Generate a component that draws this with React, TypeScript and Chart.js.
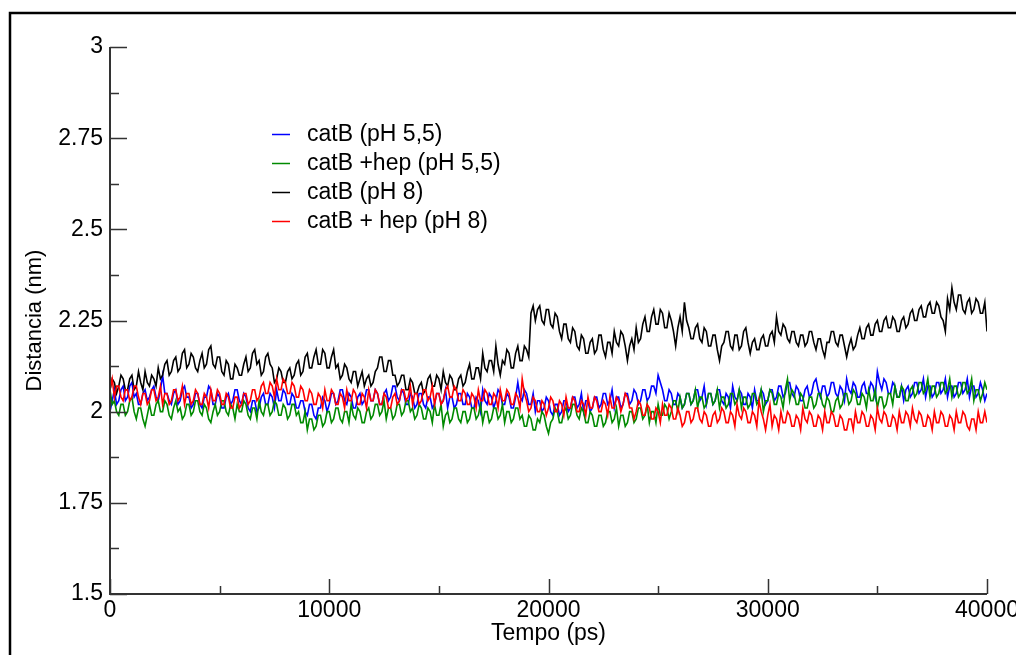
import { useEffect, useRef } from "react";
import { Chart, registerables } from "chart.js";

Chart.register(...registerables);

// sampling step of the trajectories (ps)
const TIME_STEP_PS = 100;

const seriesLabels = [
  "catB (pH 5,5)",
  "catB +hep (pH 5,5)",
  "catB (pH 8)",
  "catB + hep (pH 8)",
];
const seriesColors = ["#0000ff", "#008a00", "#000000", "#ff0000"];

const catB_pH55 = [
  2.00, 2.03, 2.06, 2.02, 2.03, 2.06, 2.07, 2.03, 2.04, 2.07, 2.08, 2.04, 2.05, 2.02, 2.02, 2.05, 2.06, 2.03, 2.04, 2.06,
  2.07, 2.04, 2.03, 2.06, 2.10, 2.05, 2.05, 2.03, 2.02, 2.05, 2.06, 2.02, 2.03, 2.06, 2.07, 2.04, 2.04, 2.01, 2.02, 2.05,
  2.05, 2.02, 2.01, 2.04, 2.04, 2.07, 2.06, 2.02, 2.02, 2.05, 2.04, 2.01, 2.01, 2.04, 2.05, 2.02, 2.03, 2.06, 2.06, 2.03,
  2.02, 2.05, 2.04, 2.01, 2.00, 2.03, 2.03, 2.00, 2.01, 2.04, 2.05, 2.02, 2.02, 2.05, 2.04, 2.01, 2.06, 2.03, 2.03, 2.06,
  2.05, 2.02, 2.02, 2.05, 2.04, 2.01, 2.01, 2.03, 2.03, 2.00, 1.99, 2.02, 2.02, 1.99, 1.98, 2.01, 2.01, 2.04, 2.03, 2.00,
  2.02, 2.05, 2.05, 2.02, 2.03, 2.06, 2.06, 2.03, 2.02, 2.05, 2.04, 2.01, 2.01, 2.04, 2.05, 2.02, 2.03, 2.06, 2.06, 2.03,
  2.03, 2.06, 2.05, 2.02, 2.02, 2.05, 2.06, 2.03, 2.04, 2.07, 2.07, 2.04, 2.03, 2.06, 2.05, 2.02, 2.02, 2.05, 2.04, 2.01,
  2.02, 2.05, 2.05, 2.02, 2.01, 2.04, 2.04, 2.01, 2.02, 2.05, 2.05, 2.02, 2.03, 2.06, 2.01, 2.04, 2.04, 2.01, 2.02, 2.05,
  2.05, 2.02, 2.02, 2.05, 2.04, 2.01, 2.01, 2.04, 2.03, 2.00, 2.06, 2.03, 2.02, 2.05, 2.04, 2.01, 2.03, 2.06, 2.05, 2.02,
  2.02, 2.05, 2.04, 2.01, 2.01, 2.04, 2.08, 2.04, 2.03, 2.06, 2.05, 2.02, 2.02, 2.05, 2.00, 2.03, 2.03, 2.00, 2.01, 2.04,
  2.03, 2.00, 1.99, 2.02, 2.02, 1.99, 2.00, 2.03, 2.03, 2.00, 2.01, 2.04, 2.04, 2.01, 2.02, 2.05, 2.00, 2.03, 2.03, 2.00,
  2.01, 2.04, 2.04, 2.01, 2.02, 2.05, 2.05, 2.02, 2.03, 2.06, 2.01, 2.04, 2.04, 2.01, 2.02, 2.05, 2.05, 2.02, 2.03, 2.06,
  2.05, 2.02, 2.03, 2.06, 2.06, 2.03, 2.04, 2.07, 2.07, 2.05, 2.10, 2.08, 2.06, 2.03, 2.03, 2.06, 2.05, 2.02, 2.02, 2.05,
  2.04, 2.01, 2.02, 2.05, 2.05, 2.02, 2.03, 2.06, 2.06, 2.03, 2.04, 2.07, 2.02, 2.05, 2.05, 2.02, 2.03, 2.06, 2.06, 2.03,
  2.02, 2.05, 2.04, 2.01, 2.07, 2.04, 2.03, 2.06, 2.05, 2.02, 2.02, 2.05, 2.04, 2.01, 2.06, 2.03, 2.03, 2.06, 2.05, 2.02,
  2.03, 2.06, 2.06, 2.03, 2.04, 2.07, 2.07, 2.04, 2.05, 2.08, 2.08, 2.05, 2.04, 2.07, 2.06, 2.03, 2.03, 2.06, 2.07, 2.04,
  2.05, 2.08, 2.09, 2.06, 2.04, 2.07, 2.07, 2.04, 2.05, 2.08, 2.08, 2.05, 2.04, 2.07, 2.06, 2.03, 2.09, 2.06, 2.05, 2.08,
  2.07, 2.04, 2.04, 2.07, 2.08, 2.05, 2.05, 2.08, 2.07, 2.04, 2.11, 2.08, 2.06, 2.09, 2.08, 2.05, 2.05, 2.08, 2.07, 2.04,
  2.04, 2.07, 2.03, 2.06, 2.07, 2.04, 2.05, 2.08, 2.08, 2.05, 2.06, 2.09, 2.04, 2.07, 2.07, 2.04, 2.05, 2.08, 2.08, 2.05,
  2.06, 2.09, 2.04, 2.07, 2.07, 2.04, 2.05, 2.08, 2.08, 2.05, 2.06, 2.09, 2.04, 2.07, 2.07, 2.04, 2.05, 2.08, 2.06, 2.03,
  2.05,
];

const catBhep_pH55 = [
  2.06, 2.02, 2.03, 2.00, 1.99, 2.02, 2.02, 1.99, 2.00, 2.03, 2.04, 2.00, 1.98, 2.01, 2.01, 1.98, 1.96, 1.99, 2.02, 1.99,
  1.99, 2.02, 2.03, 2.00, 2.00, 2.03, 2.02, 1.99, 1.98, 2.01, 2.03, 2.00, 2.01, 1.98, 1.99, 2.02, 2.02, 1.99, 2.00, 2.03,
  2.03, 2.00, 1.99, 2.02, 2.01, 1.98, 1.97, 2.00, 2.02, 1.99, 2.00, 2.03, 2.03, 2.00, 1.99, 2.02, 2.01, 1.98, 2.02, 2.00,
  2.00, 2.03, 2.02, 1.99, 1.98, 2.01, 2.01, 1.98, 2.03, 2.00, 1.99, 2.02, 2.02, 1.99, 2.00, 2.03, 2.02, 1.99, 1.99, 2.02,
  2.01, 1.98, 1.99, 2.02, 2.02, 1.99, 2.00, 1.97, 1.97, 2.00, 1.95, 1.98, 1.98, 1.95, 1.96, 1.99, 1.99, 1.96, 1.97, 2.00,
  2.00, 1.97, 1.98, 2.01, 2.01, 1.98, 1.97, 2.00, 2.00, 1.97, 2.02, 1.99, 1.98, 2.01, 2.00, 1.97, 1.97, 2.00, 2.01, 1.98,
  1.99, 2.02, 2.02, 1.99, 2.00, 2.03, 1.98, 2.01, 2.01, 1.98, 1.99, 2.02, 2.02, 1.99, 2.00, 2.03, 2.03, 2.00, 2.01, 1.98,
  1.99, 2.02, 2.01, 1.98, 1.98, 2.01, 2.00, 1.97, 2.02, 1.99, 1.99, 2.02, 1.96, 1.99, 2.00, 1.97, 1.98, 2.01, 2.01, 1.98,
  1.97, 2.00, 2.00, 1.97, 1.98, 2.01, 2.01, 1.98, 1.99, 2.02, 1.97, 2.00, 2.00, 1.97, 1.98, 2.01, 2.01, 1.98, 1.99, 2.02,
  1.97, 2.00, 2.00, 1.97, 1.98, 2.01, 2.01, 1.98, 1.99, 1.96, 1.96, 1.99, 1.98, 1.95, 1.95, 1.98, 1.97, 2.00, 1.99, 1.96,
  1.94, 1.97, 1.98, 2.01, 2.00, 1.97, 1.97, 2.00, 2.01, 1.98, 1.99, 2.02, 2.02, 1.99, 1.98, 2.01, 2.00, 1.97, 1.97, 2.00,
  1.99, 1.96, 1.96, 1.99, 1.99, 1.96, 1.97, 2.00, 2.00, 1.97, 1.98, 2.01, 1.96, 1.99, 1.99, 1.96, 1.97, 2.00, 2.00, 1.97,
  1.98, 2.01, 2.01, 1.98, 1.99, 2.02, 1.97, 2.00, 2.00, 1.97, 2.02, 1.99, 1.99, 2.02, 2.01, 1.98, 2.00, 2.03, 2.03, 2.00,
  2.04, 2.01, 2.02, 2.05, 2.05, 2.02, 2.03, 2.06, 2.01, 2.04, 2.04, 2.01, 2.02, 2.05, 2.05, 2.02, 2.03, 2.06, 2.01, 2.04,
  2.04, 2.01, 2.02, 2.05, 2.05, 2.02, 2.03, 2.06, 2.01, 2.04, 2.04, 2.01, 2.02, 2.05, 2.05, 2.02, 2.03, 2.06, 2.00, 2.03,
  2.03, 2.06, 2.05, 2.02, 2.02, 2.05, 2.04, 2.01, 2.06, 2.09, 2.03, 2.06, 2.05, 2.02, 2.02, 2.05, 2.04, 2.01, 2.01, 2.04,
  2.04, 2.01, 2.02, 2.05, 2.05, 2.02, 2.01, 2.04, 2.03, 2.00, 2.00, 2.03, 2.04, 2.01, 2.02, 2.05, 2.05, 2.02, 2.03, 2.06,
  2.05, 2.02, 2.02, 2.05, 2.04, 2.01, 2.06, 2.03, 2.03, 2.06, 2.01, 2.04, 2.04, 2.01, 2.02, 2.05, 2.05, 2.02, 2.07, 2.04,
  2.04, 2.07, 2.06, 2.03, 2.03, 2.06, 2.07, 2.04, 2.05, 2.08, 2.08, 2.05, 2.06, 2.09, 2.04, 2.07, 2.07, 2.04, 2.05, 2.08,
  2.08, 2.05, 2.06, 2.09, 2.04, 2.07, 2.07, 2.04, 2.05, 2.08, 2.08, 2.05, 2.06, 2.09, 2.03, 2.06, 2.06, 2.03, 2.05, 2.08,
  2.06,
];

const catB_pH8 = [
  2.06, 2.09, 2.08, 2.05, 2.07, 2.10, 2.09, 2.06, 2.06, 2.09, 2.10, 2.06, 2.07, 2.11, 2.08, 2.06, 2.11, 2.08, 2.07, 2.10,
  2.09, 2.07, 2.12, 2.09, 2.10, 2.13, 2.14, 2.10, 2.11, 2.14, 2.15, 2.11, 2.12, 2.16, 2.17, 2.12, 2.13, 2.16, 2.15, 2.12,
  2.11, 2.14, 2.16, 2.12, 2.13, 2.17, 2.18, 2.13, 2.12, 2.15, 2.15, 2.11, 2.10, 2.14, 2.13, 2.09, 2.09, 2.13, 2.12, 2.10,
  2.10, 2.13, 2.15, 2.11, 2.12, 2.16, 2.17, 2.13, 2.14, 2.10, 2.11, 2.15, 2.16, 2.13, 2.12, 2.08, 2.09, 2.12, 2.11, 2.08,
  2.08, 2.11, 2.12, 2.09, 2.10, 2.13, 2.14, 2.10, 2.11, 2.15, 2.16, 2.12, 2.12, 2.15, 2.17, 2.13, 2.13, 2.17, 2.16, 2.12,
  2.12, 2.15, 2.17, 2.12, 2.13, 2.09, 2.10, 2.13, 2.12, 2.09, 2.08, 2.11, 2.11, 2.07, 2.09, 2.11, 2.07, 2.09, 2.10, 2.07,
  2.08, 2.11, 2.12, 2.15, 2.15, 2.11, 2.11, 2.14, 2.14, 2.10, 2.10, 2.07, 2.08, 2.10, 2.10, 2.06, 2.06, 2.09, 2.08, 2.05,
  2.05, 2.07, 2.08, 2.05, 2.06, 2.09, 2.10, 2.07, 2.07, 2.10, 2.09, 2.06, 2.11, 2.08, 2.07, 2.10, 2.09, 2.06, 2.06, 2.09,
  2.10, 2.07, 2.08, 2.11, 2.13, 2.09, 2.09, 2.12, 2.12, 2.09, 2.16, 2.12, 2.11, 2.14, 2.14, 2.11, 2.18, 2.13, 2.10, 2.14,
  2.13, 2.17, 2.16, 2.12, 2.12, 2.16, 2.18, 2.14, 2.14, 2.18, 2.17, 2.15, 2.27, 2.29, 2.25, 2.28, 2.29, 2.25, 2.24, 2.28,
  2.28, 2.24, 2.23, 2.27, 2.26, 2.22, 2.20, 2.24, 2.24, 2.20, 2.19, 2.23, 2.22, 2.18, 2.17, 2.21, 2.20, 2.16, 2.16, 2.19,
  2.20, 2.16, 2.17, 2.21, 2.21, 2.17, 2.15, 2.19, 2.19, 2.16, 2.22, 2.19, 2.18, 2.22, 2.21, 2.18, 2.14, 2.18, 2.20, 2.17,
  2.23, 2.19, 2.20, 2.24, 2.26, 2.22, 2.22, 2.26, 2.28, 2.24, 2.24, 2.28, 2.27, 2.23, 2.23, 2.27, 2.25, 2.22, 2.18, 2.23,
  2.26, 2.22, 2.30, 2.25, 2.23, 2.20, 2.20, 2.23, 2.24, 2.20, 2.19, 2.23, 2.22, 2.18, 2.18, 2.21, 2.21, 2.17, 2.14, 2.18,
  2.19, 2.22, 2.22, 2.18, 2.17, 2.21, 2.21, 2.17, 2.18, 2.22, 2.23, 2.19, 2.16, 2.19, 2.20, 2.17, 2.17, 2.20, 2.21, 2.18,
  2.18, 2.21, 2.22, 2.19, 2.26, 2.22, 2.21, 2.24, 2.23, 2.20, 2.19, 2.22, 2.22, 2.19, 2.18, 2.21, 2.21, 2.18, 2.19, 2.22,
  2.22, 2.19, 2.17, 2.20, 2.20, 2.17, 2.15, 2.19, 2.19, 2.22, 2.22, 2.19, 2.18, 2.21, 2.21, 2.18, 2.15, 2.18, 2.20, 2.17,
  2.18, 2.21, 2.23, 2.20, 2.20, 2.23, 2.24, 2.21, 2.21, 2.24, 2.25, 2.22, 2.22, 2.25, 2.26, 2.23, 2.23, 2.26, 2.25, 2.22,
  2.22, 2.25, 2.26, 2.23, 2.24, 2.27, 2.28, 2.25, 2.25, 2.28, 2.29, 2.26, 2.26, 2.29, 2.30, 2.27, 2.27, 2.30, 2.29, 2.26,
  2.25, 2.22, 2.31, 2.28, 2.34, 2.30, 2.28, 2.32, 2.32, 2.28, 2.27, 2.30, 2.31, 2.27, 2.28, 2.31, 2.30, 2.27, 2.27, 2.30,
  2.22,
];

const catBhep_pH8 = [
  2.06, 2.09, 2.04, 2.07, 2.07, 2.04, 2.03, 2.06, 2.06, 2.03, 2.04, 2.07, 2.07, 2.04, 2.02, 2.05, 2.05, 2.02, 2.03, 2.06,
  2.06, 2.03, 2.04, 2.07, 2.02, 2.05, 2.05, 2.02, 2.03, 2.06, 2.06, 2.03, 2.04, 2.07, 2.02, 2.05, 2.05, 2.02, 2.03, 2.06,
  2.05, 2.02, 2.02, 2.05, 2.04, 2.01, 2.06, 2.03, 2.03, 2.06, 2.05, 2.02, 2.02, 2.05, 2.04, 2.01, 2.01, 2.04, 2.04, 2.01,
  2.02, 2.05, 2.05, 2.02, 2.03, 2.06, 2.06, 2.03, 2.04, 2.07, 2.08, 2.05, 2.05, 2.08, 2.07, 2.04, 2.09, 2.06, 2.06, 2.09,
  2.08, 2.05, 2.05, 2.08, 2.07, 2.04, 2.04, 2.07, 2.06, 2.03, 2.03, 2.06, 2.05, 2.02, 2.02, 2.05, 2.04, 2.01, 2.06, 2.03,
  2.03, 2.06, 2.05, 2.02, 2.02, 2.05, 2.04, 2.01, 2.06, 2.03, 2.03, 2.06, 2.05, 2.02, 2.02, 2.05, 2.04, 2.01, 2.06, 2.03,
  2.03, 2.06, 2.05, 2.02, 2.02, 2.05, 2.04, 2.01, 2.01, 2.04, 2.05, 2.02, 2.03, 2.06, 2.06, 2.03, 2.04, 2.07, 2.02, 2.05,
  2.05, 2.02, 2.03, 2.06, 2.06, 2.03, 2.04, 2.07, 2.02, 2.05, 2.05, 2.02, 2.03, 2.06, 2.07, 2.04, 2.04, 2.07, 2.06, 2.03,
  2.03, 2.06, 2.05, 2.02, 2.02, 2.05, 2.04, 2.01, 2.06, 2.03, 2.03, 2.06, 2.05, 2.02, 2.02, 2.05, 2.04, 2.01, 2.06, 2.03,
  2.03, 2.06, 2.05, 2.02, 2.02, 2.05, 2.04, 2.01, 2.09, 2.05, 2.03, 2.00, 2.01, 2.04, 2.03, 2.00, 2.00, 2.03, 2.02, 1.99,
  2.01, 2.04, 2.03, 2.00, 2.00, 2.03, 2.02, 1.99, 2.04, 2.01, 2.01, 2.04, 2.03, 2.00, 2.00, 2.03, 2.02, 1.99, 2.04, 2.01,
  2.01, 2.04, 2.03, 2.00, 2.00, 2.03, 2.02, 1.99, 2.04, 2.01, 2.01, 2.04, 2.03, 2.00, 2.02, 2.05, 2.04, 2.01, 2.01, 1.98,
  2.00, 2.03, 2.02, 1.99, 1.99, 2.02, 2.01, 1.98, 1.98, 2.01, 2.00, 1.97, 2.02, 1.99, 1.99, 2.02, 2.01, 1.98, 1.98, 2.01,
  1.99, 1.96, 1.97, 2.00, 2.00, 1.97, 1.98, 2.01, 2.01, 1.98, 1.97, 2.00, 1.99, 1.96, 1.96, 1.99, 2.00, 1.97, 1.98, 2.01,
  2.00, 1.97, 1.97, 2.00, 1.99, 1.96, 2.02, 1.99, 1.98, 2.01, 2.00, 1.97, 1.97, 2.00, 1.99, 1.96, 2.03, 2.00, 1.98, 1.95,
  1.99, 2.02, 1.96, 1.99, 1.98, 1.95, 2.00, 1.97, 1.97, 2.00, 1.99, 1.96, 1.96, 1.99, 1.98, 1.95, 2.01, 1.98, 1.97, 2.00,
  1.99, 1.96, 1.96, 1.99, 1.98, 1.95, 2.00, 1.97, 1.97, 2.00, 1.99, 1.96, 1.96, 1.99, 1.98, 1.95, 1.95, 1.98, 1.98, 1.95,
  2.00, 1.97, 1.97, 2.00, 1.99, 1.96, 1.96, 1.99, 1.98, 1.95, 2.01, 1.98, 1.97, 2.00, 1.99, 1.96, 1.96, 1.99, 1.98, 1.95,
  2.00, 1.97, 1.97, 2.00, 1.99, 1.96, 2.01, 1.98, 1.97, 2.00, 1.99, 1.96, 1.96, 1.99, 1.98, 1.95, 2.00, 1.97, 1.97, 2.00,
  1.99, 1.96, 1.96, 1.99, 1.98, 1.95, 2.00, 1.97, 1.97, 2.00, 1.99, 1.96, 1.95, 1.98, 1.98, 1.95, 2.00, 1.97, 1.97, 2.00,
  1.97,
];

const seriesValues = [catB_pH55, catBhep_pH55, catB_pH8, catBhep_pH8];
// Grace draws later sets on top: red on top, blue at the bottom
const drawOrder = [4, 3, 2, 1];

const xMajorTicks = [0, 10000, 20000, 30000, 40000];
const yMajorTicks = [1.5, 1.75, 2, 2.25, 2.5, 2.75, 3];
const xTitle = "Tempo (ps)";
const yTitle = "Distancia (nm)";

const FONT = "'Liberation Sans', Arial, Helvetica, sans-serif";
const FONT_SIZE = 23;

const framePlugin = {
  id: "frame",
  beforeDraw(chart: any) {
    const { ctx, width, height } = chart;
    ctx.save();
    ctx.fillStyle = "#ffffff";
    ctx.fillRect(0, 0, width, height);
    ctx.strokeStyle = "#000000";
    ctx.lineWidth = 2.5;
    ctx.strokeRect(10, 13, width + 40, height + 40);
    ctx.restore();
  },
};

const axesPlugin = {
  id: "graceAxes",
  afterDatasetsDraw(chart: any) {
    const { ctx, chartArea: ca, scales } = chart;
    const x = scales.x;
    const y = scales.y;
    ctx.save();
    ctx.strokeStyle = "#333333";
    ctx.lineWidth = 2;
    ctx.beginPath();
    ctx.moveTo(ca.left, ca.top);
    ctx.lineTo(ca.left, ca.bottom);
    ctx.lineTo(ca.right, ca.bottom);
    ctx.stroke();
    ctx.lineWidth = 1.5;
    ctx.beginPath();
    yMajorTicks.forEach((v, i) => {
      const py = Math.round(y.getPixelForValue(v)) + 0.5;
      ctx.moveTo(ca.left, py);
      ctx.lineTo(ca.left + 17, py);
      if (i < yMajorTicks.length - 1) {
        const pm = Math.round(y.getPixelForValue((v + yMajorTicks[i + 1]) / 2)) + 0.5;
        ctx.moveTo(ca.left, pm);
        ctx.lineTo(ca.left + 9, pm);
      }
    });
    xMajorTicks.forEach((v, i) => {
      const px = Math.round(x.getPixelForValue(v)) + 0.5;
      ctx.moveTo(px, ca.bottom);
      ctx.lineTo(px, ca.bottom - 15);
      if (i < xMajorTicks.length - 1) {
        const pm = Math.round(x.getPixelForValue((v + xMajorTicks[i + 1]) / 2)) + 0.5;
        ctx.moveTo(pm, ca.bottom);
        ctx.lineTo(pm, ca.bottom - 8);
      }
    });
    ctx.stroke();
    ctx.restore();
  },
};

const legendPlugin = {
  id: "graceLegend",
  afterDraw(chart: any) {
    const { ctx } = chart;
    ctx.save();
    ctx.font = `${FONT_SIZE}px ${FONT}`;
    ctx.textBaseline = "middle";
    ctx.textAlign = "left";
    seriesLabels.forEach((label, i) => {
      const yy = 134 + i * 29;
      ctx.strokeStyle = seriesColors[i];
      ctx.lineWidth = 1.5;
      ctx.beginPath();
      ctx.moveTo(272, yy + 0.5);
      ctx.lineTo(290, yy + 0.5);
      ctx.stroke();
      ctx.fillStyle = "#000000";
      ctx.fillText(label, 307, yy + 1);
    });
    ctx.restore();
  },
};

export default function App() {
  const ref = useRef<HTMLCanvasElement | null>(null);

  useEffect(() => {
    document.body.style.margin = "0";
    const canvas = ref.current;
    if (!canvas) return;
    const datasets = seriesValues.map((vals, i) => ({
      label: seriesLabels[i],
      data: vals.map((v, k) => ({ x: k * TIME_STEP_PS, y: v })),
      borderColor: seriesColors[i],
      backgroundColor: seriesColors[i],
      borderWidth: 1.6,
      pointRadius: 0,
      tension: 0,
      fill: false,
      order: drawOrder[i],
    }));
    const chart = new Chart(canvas, {
      type: "line",
      data: { datasets },
      options: {
        animation: false,
        responsive: false,
        maintainAspectRatio: false,
        layout: { padding: { left: 0, top: 47, right: 29, bottom: 0 } },
        plugins: {
          legend: { display: false },
          tooltip: { enabled: false },
        },
        scales: {
          x: {
            type: "linear",
            min: 0,
            max: 40000,
            afterBuildTicks: (s: any) => {
              s.ticks = xMajorTicks.map((v) => ({ value: v }));
            },
            afterFit: (s: any) => {
              s.height = 61;
              s.paddingLeft = 0;
              s.paddingRight = 0;
            },
            ticks: {
              autoSkip: false,
              maxRotation: 0,
              padding: 3,
              color: "#000000",
              font: { size: FONT_SIZE, family: FONT },
              callback: (v: any) => String(v),
            },
            grid: { display: false, drawTicks: false },
            border: { display: false },
            title: {
              display: true,
              text: xTitle,
              color: "#000000",
              font: { size: FONT_SIZE, family: FONT },
              padding: { top: 0, bottom: 8 },
            },
          },
          y: {
            type: "linear",
            min: 1.5,
            max: 3,
            afterBuildTicks: (s: any) => {
              s.ticks = yMajorTicks.map((v) => ({ value: v }));
            },
            afterFit: (s: any) => {
              s.width = 110;
              s.paddingTop = 0;
              s.paddingBottom = 0;
            },
            ticks: {
              autoSkip: false,
              padding: 7,
              color: "#000000",
              font: { size: FONT_SIZE, family: FONT },
              callback: (v: any) => String(v),
            },
            grid: { display: false, drawTicks: false },
            border: { display: false },
            title: {
              display: true,
              text: yTitle,
              color: "#000000",
              font: { size: 22, family: FONT },
              padding: { top: 22, bottom: 0 },
            },
          },
        },
      },
      plugins: [framePlugin, axesPlugin, legendPlugin],
    } as any);
    return () => chart.destroy();
  }, []);

  return (
    <div style={{ position: "absolute", left: 0, top: 0, width: 1016, height: 655 }}>
      <canvas ref={ref} width={1016} height={655} style={{ display: "block" }} />
    </div>
  );
}
